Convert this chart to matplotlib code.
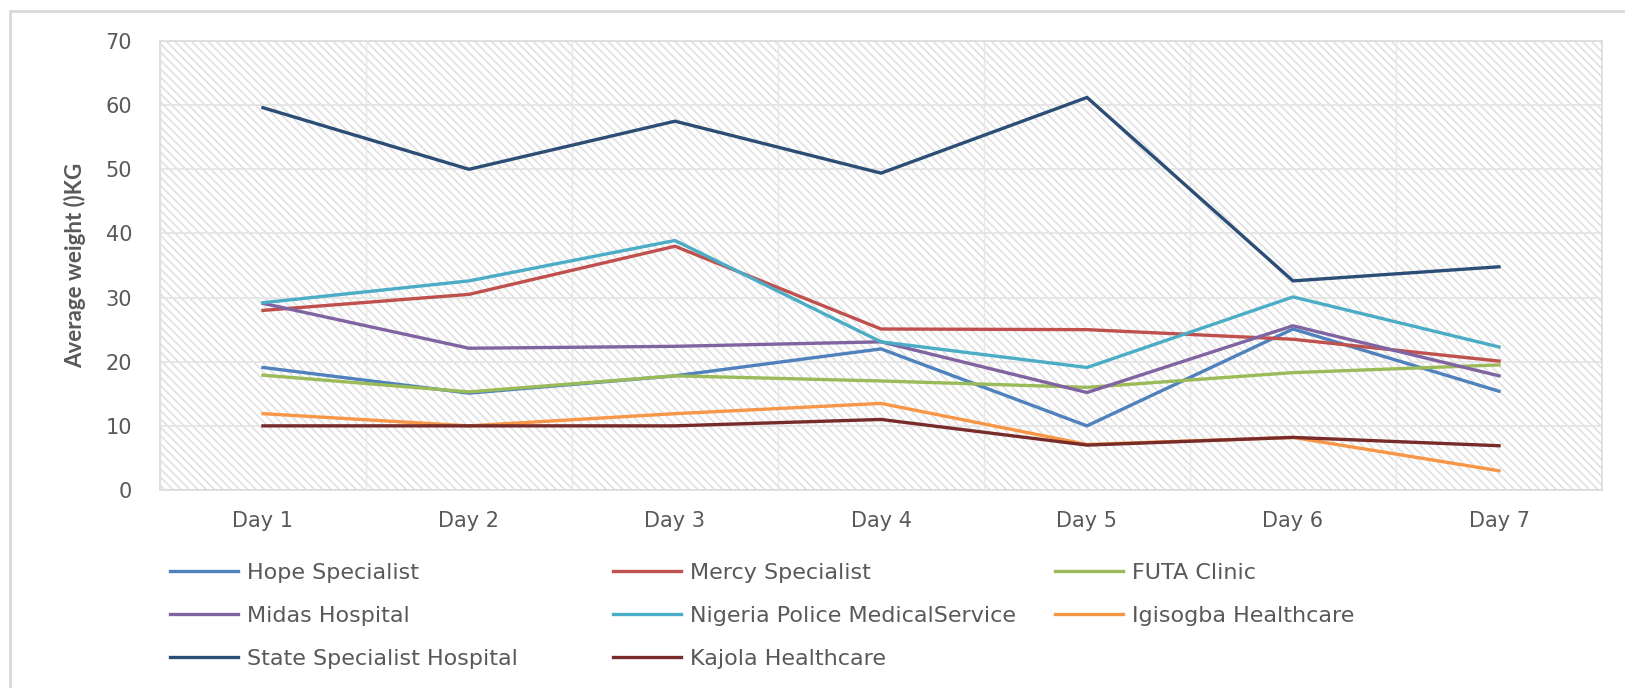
import matplotlib
matplotlib.use("Agg")
from matplotlib import pyplot as plt
from matplotlib.patches import Rectangle
from matplotlib.lines import Line2D
import numpy as np

plt.rcParams['font.family'] = ['DejaVu Sans']
plt.rcParams['hatch.linewidth'] = 1.2

days = ['Day 1', 'Day 2', 'Day 3', 'Day 4', 'Day 5', 'Day 6', 'Day 7']

hope = [19.1, 15.1, 17.8, 22.0, 10.0, 25.1, 15.4]
mercy = [28.0, 30.5, 38.0, 25.1, 25.0, 23.5, 20.1]
futa = [17.9, 15.3, 17.8, 17.0, 16.0, 18.3, 19.5]
midas = [29.1, 22.1, 22.4, 23.1, 15.2, 25.6, 17.8]
police = [29.2, 32.6, 38.9, 23.1, 19.1, 30.1, 22.3]
igisogba = [11.9, 10.0, 11.9, 13.5, 7.1, 8.2, 3.0]
state = [59.6, 50.0, 57.5, 49.4, 61.2, 32.6, 34.8]
kajola = [10.0, 10.0, 10.0, 11.0, 7.0, 8.2, 6.9]

series = [
    ('Hope Specialist', hope, '#4f81bd'),
    ('Mercy Specialist', mercy, '#c0504d'),
    ('FUTA Clinic', futa, '#9bbb59'),
    ('Midas Hospital', midas, '#8064a2'),
    ('Nigeria Police MedicalService', police, '#4bacc6'),
    ('Igisogba Healthcare', igisogba, '#f79646'),
    ('State Specialist Hospital', state, '#2c4d75'),
    ('Kajola Healthcare', kajola, '#772c2a'),
]

txt = '#595959'
W, H = 1625, 688

fig = plt.figure(figsize=(16.25, 6.88), dpi=100)
ax = fig.add_axes([160 / W, 1 - 490 / H, 1442 / W, 449 / H])

# hatched plot background (about 4 px between stripes)
ax.add_patch(Rectangle((0, 0), 1, 1, transform=ax.transAxes, facecolor='white',
                       edgecolor='#e0e0e0', linewidth=0, hatch='\\' * 4, zorder=0))

x = np.arange(len(days))
handles = {}
for name, vals, col in series:
    h, = ax.plot(x, vals, color=col, lw=2.4, zorder=3)
    handles[name] = h

ax.set_xlim(-0.5, len(days) - 0.5)
ax.set_ylim(0, 70)
ax.set_yticks(range(0, 71, 10))
ax.set_xticks(x)
ax.set_xticklabels(days)
ax.set_xticks(np.arange(-0.5, len(days), 0.5), minor=True)
ax.grid(axis='y', color='#e3e3e3', lw=1.2, zorder=1)
ax.grid(axis='x', which='minor', color='#e8e8e8', lw=1.0, zorder=1)
ax.tick_params(axis='both', which='both', length=0, labelsize=15, colors=txt)
ax.tick_params(axis='y', pad=20)
ax.tick_params(axis='x', pad=15)
for s in ax.spines.values():
    s.set_color('#dcdcdc')
    s.set_linewidth(1.2)

ax.set_ylabel('Average weight ()KG', fontsize=16, fontweight='bold', color=txt,
              family=['Lato', 'DejaVu Sans'])
ax.yaxis.set_label_coords(-0.051, 0.5)

# legend: three fixed-width columns like the original
columns = [
    ['Hope Specialist', 'Midas Hospital', 'State Specialist Hospital'],
    ['Mercy Specialist', 'Nigeria Police MedicalService', 'Kajola Healthcare'],
    ['FUTA Clinic', 'Igisogba Healthcare'],
]
col_x = [170, 613, 1055]
for names, cx in zip(columns, col_x):
    leg = fig.legend([handles[n] for n in names], names, frameon=False,
                     loc='upper left', bbox_to_anchor=(cx / W, 1 - 563 / H),
                     fontsize=16, handlelength=3.05, handletextpad=0.4,
                     labelspacing=1.03, borderpad=0, borderaxespad=0)
    for t in leg.get_texts():
        t.set_color(txt)

# chart border
fig.add_artist(Line2D([10 / W, 10 / W], [0, 1 - 11 / H], transform=fig.transFigure,
                      color='#d9d9d9', lw=2))
fig.add_artist(Line2D([10 / W, 1], [1 - 11 / H, 1 - 11 / H], transform=fig.transFigure,
                      color='#d9d9d9', lw=2))

fig.savefig('out.png', dpi=100)
